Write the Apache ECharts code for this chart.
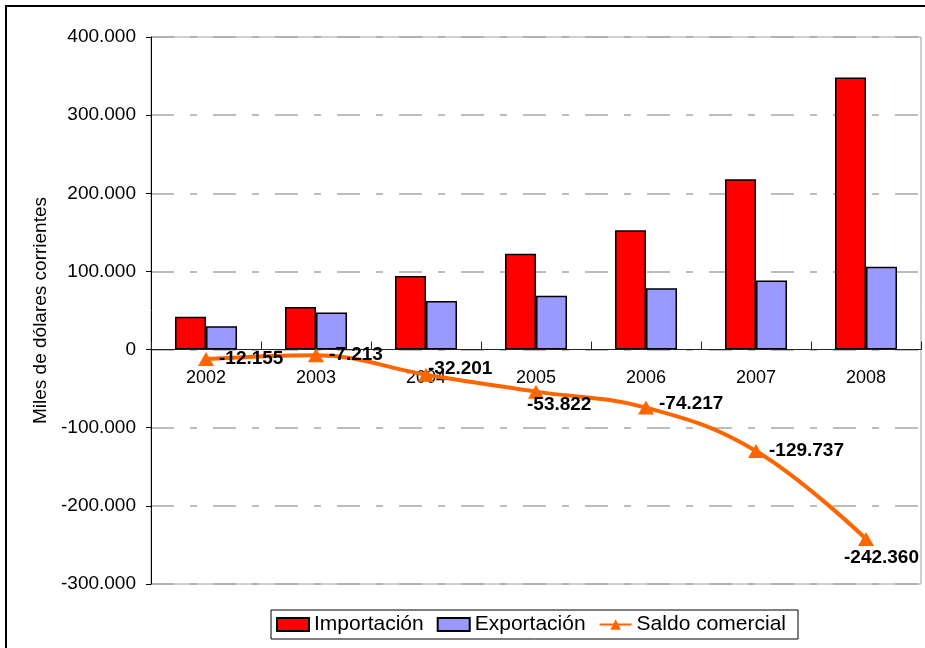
<!DOCTYPE html>
<html>
<head>
<meta charset="utf-8">
<script src="https://cdn.jsdelivr.net/npm/echarts@6/dist/echarts.min.js"></script>
<style>
  html, body { margin: 0; padding: 0; background: #fff; }
  #chart { width: 925px; height: 648px; }
</style>
</head>
<body>
<div id="chart"></div>
<script>
// balanza comercial 2002-2008, miles de dólares corrientes
const years = ['2002', '2003', '2004', '2005', '2006', '2007', '2008'];
const importacion = [42000, 54500, 94200, 122700, 152600, 218000, 348300];
const exportacion = [29845, 47287, 61999, 68878, 78383, 88263, 105940];
const saldo = [-12155, -7213, -32201, -53822, -74217, -129737, -242360];
// where each saldo label sits relative to the default 'right' spot
const labelOffsets = [[0, 0], [0, 0], [-11, -6], [-22, 13], [0, -4], [0, 0], [-35, 19]];

const FONT = '"Liberation Sans", Arial, sans-serif';
const fmt = v => (v < 0 ? '-' : '') + Math.abs(Math.round(v)).toString().replace(/\B(?=(\d{3})+(?!\d))/g, '.');

const Y_MIN = -300000, Y_MAX = 400000;
const GRID = { left: 151, right: 4, top: 37, bottom: 64 };
const plotH = 648 - GRID.top - GRID.bottom;
// category axis sits on the zero line (labels included), so lift it by offset
const zeroLift = plotH * (0 - Y_MIN) / (Y_MAX - Y_MIN);

const chart = echarts.init(document.getElementById('chart'), null, { renderer: 'canvas' });

chart.setOption({
  animation: false,
  backgroundColor: '#fff',
  textStyle: { fontFamily: FONT, color: '#000' },
  grid: Object.assign({ show: true, borderColor: '#a0a0a0', borderWidth: 1, backgroundColor: 'transparent' }, GRID),
  legend: {
    left: 271, top: 610,
    padding: [4, 12, 4, 5],
    borderColor: '#000', borderWidth: 1,
    itemWidth: 32, itemHeight: 13, itemGap: 13,
    textStyle: { fontFamily: FONT, fontSize: 21, color: '#000' },
    data: [
      { name: 'Importación', icon: 'rect' },
      { name: 'Exportación', icon: 'rect' },
      { name: 'Saldo comercial' }
    ]
  },
  xAxis: {
    type: 'category',
    data: years,
    offset: -zeroLift,
    z: 3,
    axisLine: { show: true, onZero: false, lineStyle: { color: '#222', width: 1 } },
    axisTick: { show: true, interval: 0, inside: true, length: 8, lineStyle: { color: '#222', width: 1 } },
    axisLabel: { fontFamily: FONT, fontSize: 18, color: '#000', margin: 19 },
    splitLine: { show: false }
  },
  yAxis: {
    type: 'value',
    min: Y_MIN, max: Y_MAX, interval: 100000,
    name: 'Miles de dólares corrientes',
    nameLocation: 'middle', nameGap: 98,
    nameTextStyle: { fontFamily: FONT, fontSize: 19, color: '#000' },
    axisLine: { show: true, lineStyle: { color: '#000', width: 1 } },
    axisTick: { show: true, length: 5, lineStyle: { color: '#000' } },
    axisLabel: { fontFamily: FONT, fontSize: 19, color: '#000', margin: 15, formatter: fmt },
    splitLine: { show: true, lineStyle: { color: '#a8a8a8', width: 1.5, type: [23, 16, 7, 16] } }
  },
  series: [
    {
      name: 'Importación', type: 'bar', data: importacion,
      barWidth: 31, barGap: '0%',
      itemStyle: { color: '#ff0000', borderColor: '#000', borderWidth: 1.5 }
    },
    {
      name: 'Exportación', type: 'bar', data: exportacion,
      barWidth: 31, barGap: '0%',
      itemStyle: { color: '#9999ff', borderColor: '#000', borderWidth: 1.5 }
    },
    {
      name: 'Saldo comercial', type: 'line', smooth: 0.4, z: 5,
      symbol: 'triangle', symbolSize: [16, 14],
      lineStyle: { color: '#ff6600', width: 4 },
      itemStyle: { color: '#ff6600' },
      label: {
        show: true, position: 'right', distance: 5,
        fontFamily: FONT, fontSize: 19, fontWeight: 'bold', color: '#000',
        formatter: p => fmt(p.value)
      },
      data: saldo.map((v, i) => ({ value: v, label: { offset: labelOffsets[i] } }))
    }
  ],
  graphic: [{
    type: 'rect', silent: true, z: 100,
    shape: { x: 6, y: 6, width: 940, height: 660 },
    style: { fill: 'none', stroke: '#000', lineWidth: 2 }
  }]
});
</script>
</body>
</html>
